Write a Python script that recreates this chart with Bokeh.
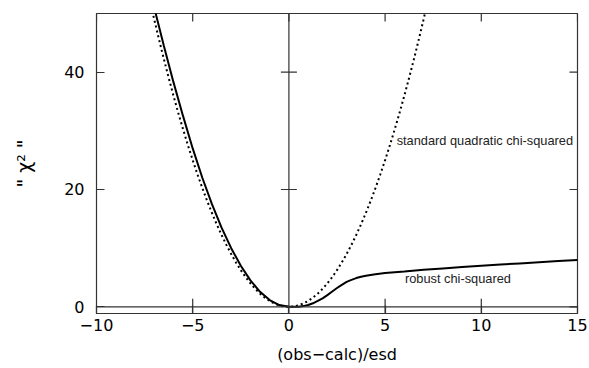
from bokeh.plotting import figure
from bokeh.models import FixedTicker, Span, Range1d
from bokeh.embed import file_html
from bokeh.resources import INLINE
from bokeh.core.properties import value

# ---- data ----
x_ticks = [-10, -5, 0, 5, 10, 15]
y_ticks = [0, 20, 40]

quad_x = [-7.5, -7.25, -7.0, -6.75, -6.5, -6.25, -6.0, -5.75, -5.5, -5.25, -5.0,
          -4.75, -4.5, -4.25, -4.0, -3.75, -3.5, -3.25, -3.0, -2.75, -2.5, -2.25,
          -2.0, -1.75, -1.5, -1.25, -1.0, -0.75, -0.5, -0.25, 0.0, 0.25, 0.5, 0.75,
          1.0, 1.25, 1.5, 1.75, 2.0, 2.25, 2.5, 2.75, 3.0, 3.25, 3.5, 3.75, 4.0,
          4.25, 4.5, 4.75, 5.0, 5.25, 5.5, 5.75, 6.0, 6.25, 6.5, 6.75, 7.0, 7.25, 7.5]
quad_y = [56.25, 52.56, 49.0, 45.56, 42.25, 39.06, 36.0, 33.06, 30.25, 27.56, 25.0,
          22.56, 20.25, 18.06, 16.0, 14.06, 12.25, 10.56, 9.0, 7.56, 6.25, 5.06,
          4.0, 3.06, 2.25, 1.56, 1.0, 0.56, 0.25, 0.06, 0.0, 0.06, 0.25, 0.56,
          1.0, 1.56, 2.25, 3.06, 4.0, 5.06, 6.25, 7.56, 9.0, 10.56, 12.25, 14.06, 16.0,
          18.06, 20.25, 22.56, 25.0, 27.56, 30.25, 33.06, 36.0, 39.06, 42.25, 45.56, 49.0, 52.56, 56.25]

robust_x = [-7.25, -7.0, -6.5, -6.0, -5.5, -5.0, -4.5, -4.0, -3.5, -3.0, -2.5, -2.0,
            -1.5, -1.0, -0.5, 0.0, 0.25, 0.5, 0.75, 1.0, 1.25, 1.5, 1.75, 2.0, 2.25,
            2.5, 2.75, 3.0, 3.25, 3.5, 3.75, 4.0, 4.5, 5.0, 6.0, 7.0, 8.0, 9.0, 10.0,
            11.0, 12.0, 13.0, 14.0, 15.0]
robust_y = [55.0, 51.0, 44.5, 38.3, 32.5, 27.0, 22.0, 17.5, 13.5, 10.0, 7.0, 4.5,
            2.55, 1.15, 0.3, 0.0, 0.0, 0.03, 0.12, 0.3, 0.6, 1.0, 1.45, 2.0, 2.6,
            3.2, 3.75, 4.25, 4.6, 4.9, 5.12, 5.3, 5.55, 5.75, 6.0, 6.3, 6.55, 6.8, 7.0,
            7.2, 7.4, 7.6, 7.8, 8.0]

label_quad = "standard quadratic chi-squared"
label_robust = "robust chi-squared"

FONT = "DejaVu Sans"
NOTE_FONT = "Liberation Sans"
FRAME = "#333333"

x0, x1 = -10, 15
y0, y1 = -1.14, 50
FW, FH = 481, 300

p = figure(width=589, height=368, output_backend="svg", toolbar_location=None,
           x_range=Range1d(x0, x1), y_range=Range1d(y0, y1),
           min_border_left=96, min_border_right=12, min_border_top=13, min_border_bottom=55,
           x_axis_label="(obs\u2212calc)/esd", y_axis_label='" \u03c7\u00b2 "')
p.grid.visible = False
p.outline_line_color = FRAME
p.outline_line_width = 1.2
p.background_fill_color = "white"
p.border_fill_color = "white"

for ax, ticks in ((p.xaxis[0], x_ticks), (p.yaxis[0], y_ticks)):
    ax.ticker = FixedTicker(ticks=ticks)
    ax.major_tick_in = 8
    ax.major_tick_out = 0
    ax.minor_tick_line_color = None
    ax.axis_line_color = FRAME
    ax.major_tick_line_color = FRAME
    ax.major_tick_line_width = 1.2
    ax.major_label_text_font = FONT
    ax.major_label_text_font_size = "16px"
    ax.major_label_text_color = "black"
    ax.axis_label_text_font = FONT
    ax.axis_label_text_font_size = "16px"
    ax.axis_label_text_font_style = "normal"
    ax.axis_label_text_color = "black"

p.xaxis[0].major_label_overrides = {t: str(t).replace("-", "\u2212") for t in x_ticks}
p.xaxis[0].major_label_standoff = 5
p.xaxis[0].axis_label_standoff = 11
p.yaxis[0].major_label_standoff = 12
p.yaxis[0].axis_label_standoff = 26
p.yaxis[0].axis_label_text_font_size = "19px"

dy = 8 * (y1 - y0) / FH
dx = 8 * (x1 - x0) / FW

# mirrored ticks on top and right edges of the frame
p.segment(x0=x_ticks, y0=[y1] * len(x_ticks), x1=x_ticks, y1=[y1 - dy] * len(x_ticks),
          line_color=FRAME, line_width=1.2)
p.segment(x0=[x1] * len(y_ticks), y0=y_ticks, x1=[x1 - dx] * len(y_ticks), y1=y_ticks,
          line_color=FRAME, line_width=1.2)

# zero axes
p.add_layout(Span(location=0, dimension="width", line_color=FRAME, line_width=1.2))
p.add_layout(Span(location=0, dimension="height", line_color=FRAME, line_width=1.2))

# crossing ticks on zero axes
xt = [t for t in x_ticks if x0 < t < x1 and t != 0]
p.segment(x0=xt, y0=[-dy] * len(xt), x1=xt, y1=[dy] * len(xt), line_color=FRAME, line_width=1.2)
yt = [t for t in y_ticks if t != 0]
p.segment(x0=[-dx] * len(yt), y0=yt, x1=[dx] * len(yt), y1=yt, line_color=FRAME, line_width=1.2)

# curves
p.line(quad_x, quad_y, line_color="black", line_width=2, line_dash="2 3")
p.line(robust_x, robust_y, line_color="black", line_width=2)

p.text(x=[5.6], y=[28.3], text=[label_quad], text_font=value(NOTE_FONT), text_font_size="12.8px",
       text_baseline="middle", text_align="left", text_color="#222222")
p.text(x=[6.03], y=[4.77], text=[label_robust], text_font=value(NOTE_FONT), text_font_size="12.8px",
       text_baseline="middle", text_align="left", text_color="#222222")

open("out.html", "w").write(file_html(p, INLINE))
